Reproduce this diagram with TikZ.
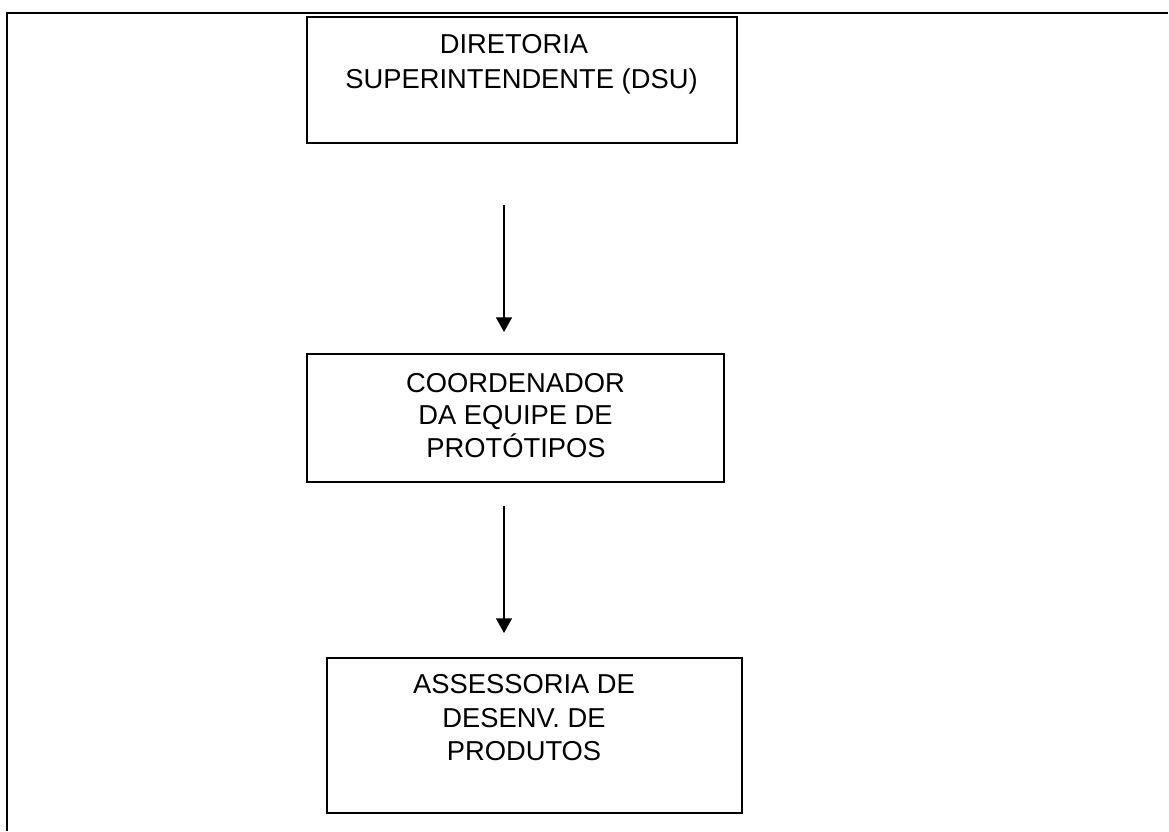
\documentclass[tikz,border=0pt]{standalone}
\usepackage{fontspec}
\setmainfont{Liberation Sans}
\usetikzlibrary{arrows.meta}
\begin{document}
\begin{tikzpicture}[x=0.75pt,y=-0.75pt,
  box/.style={draw, line width=1pt, inner sep=0pt},
  lbl/.style={anchor=base, inner sep=0pt, font=\fontsize{20.5}{25}\selectfont},
  arr/.style={line width=1pt, -{Triangle[length=11pt,width=12pt]}},
  frame/.style={line width=1.7pt}]
\useasboundingbox (0,0) rectangle (1169,831);
% outer frame (top and left only)
\coordinate (fbl) at (7,831);
\coordinate (ftl) at (7,13);
\coordinate (ftr) at (1168,13);
\draw[frame] (fbl) -- (ftl) -- (ftr);
% boxes
\node[box, minimum width=322.5pt, minimum height=94.5pt] (b1) at (522,80) {};
\node[box, minimum width=312.75pt, minimum height=96pt] (b2) at (515.5,418) {};
\node[box, minimum width=311.25pt, minimum height=116.25pt] (b3) at (534.5,735.5) {};
% labels
\node[lbl] (t1a) at (514,54) {DIRETORIA};
\node[lbl] (t1b) at (521.5,89) {SUPERINTENDENTE (DSU)};
\node[lbl] (t2a) at (515.5,392) {COORDENADOR};
\node[lbl] (t2b) at (515.5,424.5) {DA EQUIPE DE};
\node[lbl] (t2c) at (516,457) {PROTÓTIPOS};
\node[lbl] (t3a) at (524,693) {ASSESSORIA DE};
\node[lbl] (t3b) at (524,727.5) {DESENV. DE};
\node[lbl] (t3c) at (524,760) {PRODUTOS};
% arrows
\coordinate (a1s) at (504,205);
\coordinate (a1e) at (504,332);
\coordinate (a2s) at (504,506);
\coordinate (a2e) at (504,633);
\draw[arr] (a1s) -- (a1e);
\draw[arr] (a2s) -- (a2e);
\end{tikzpicture}
\end{document}
